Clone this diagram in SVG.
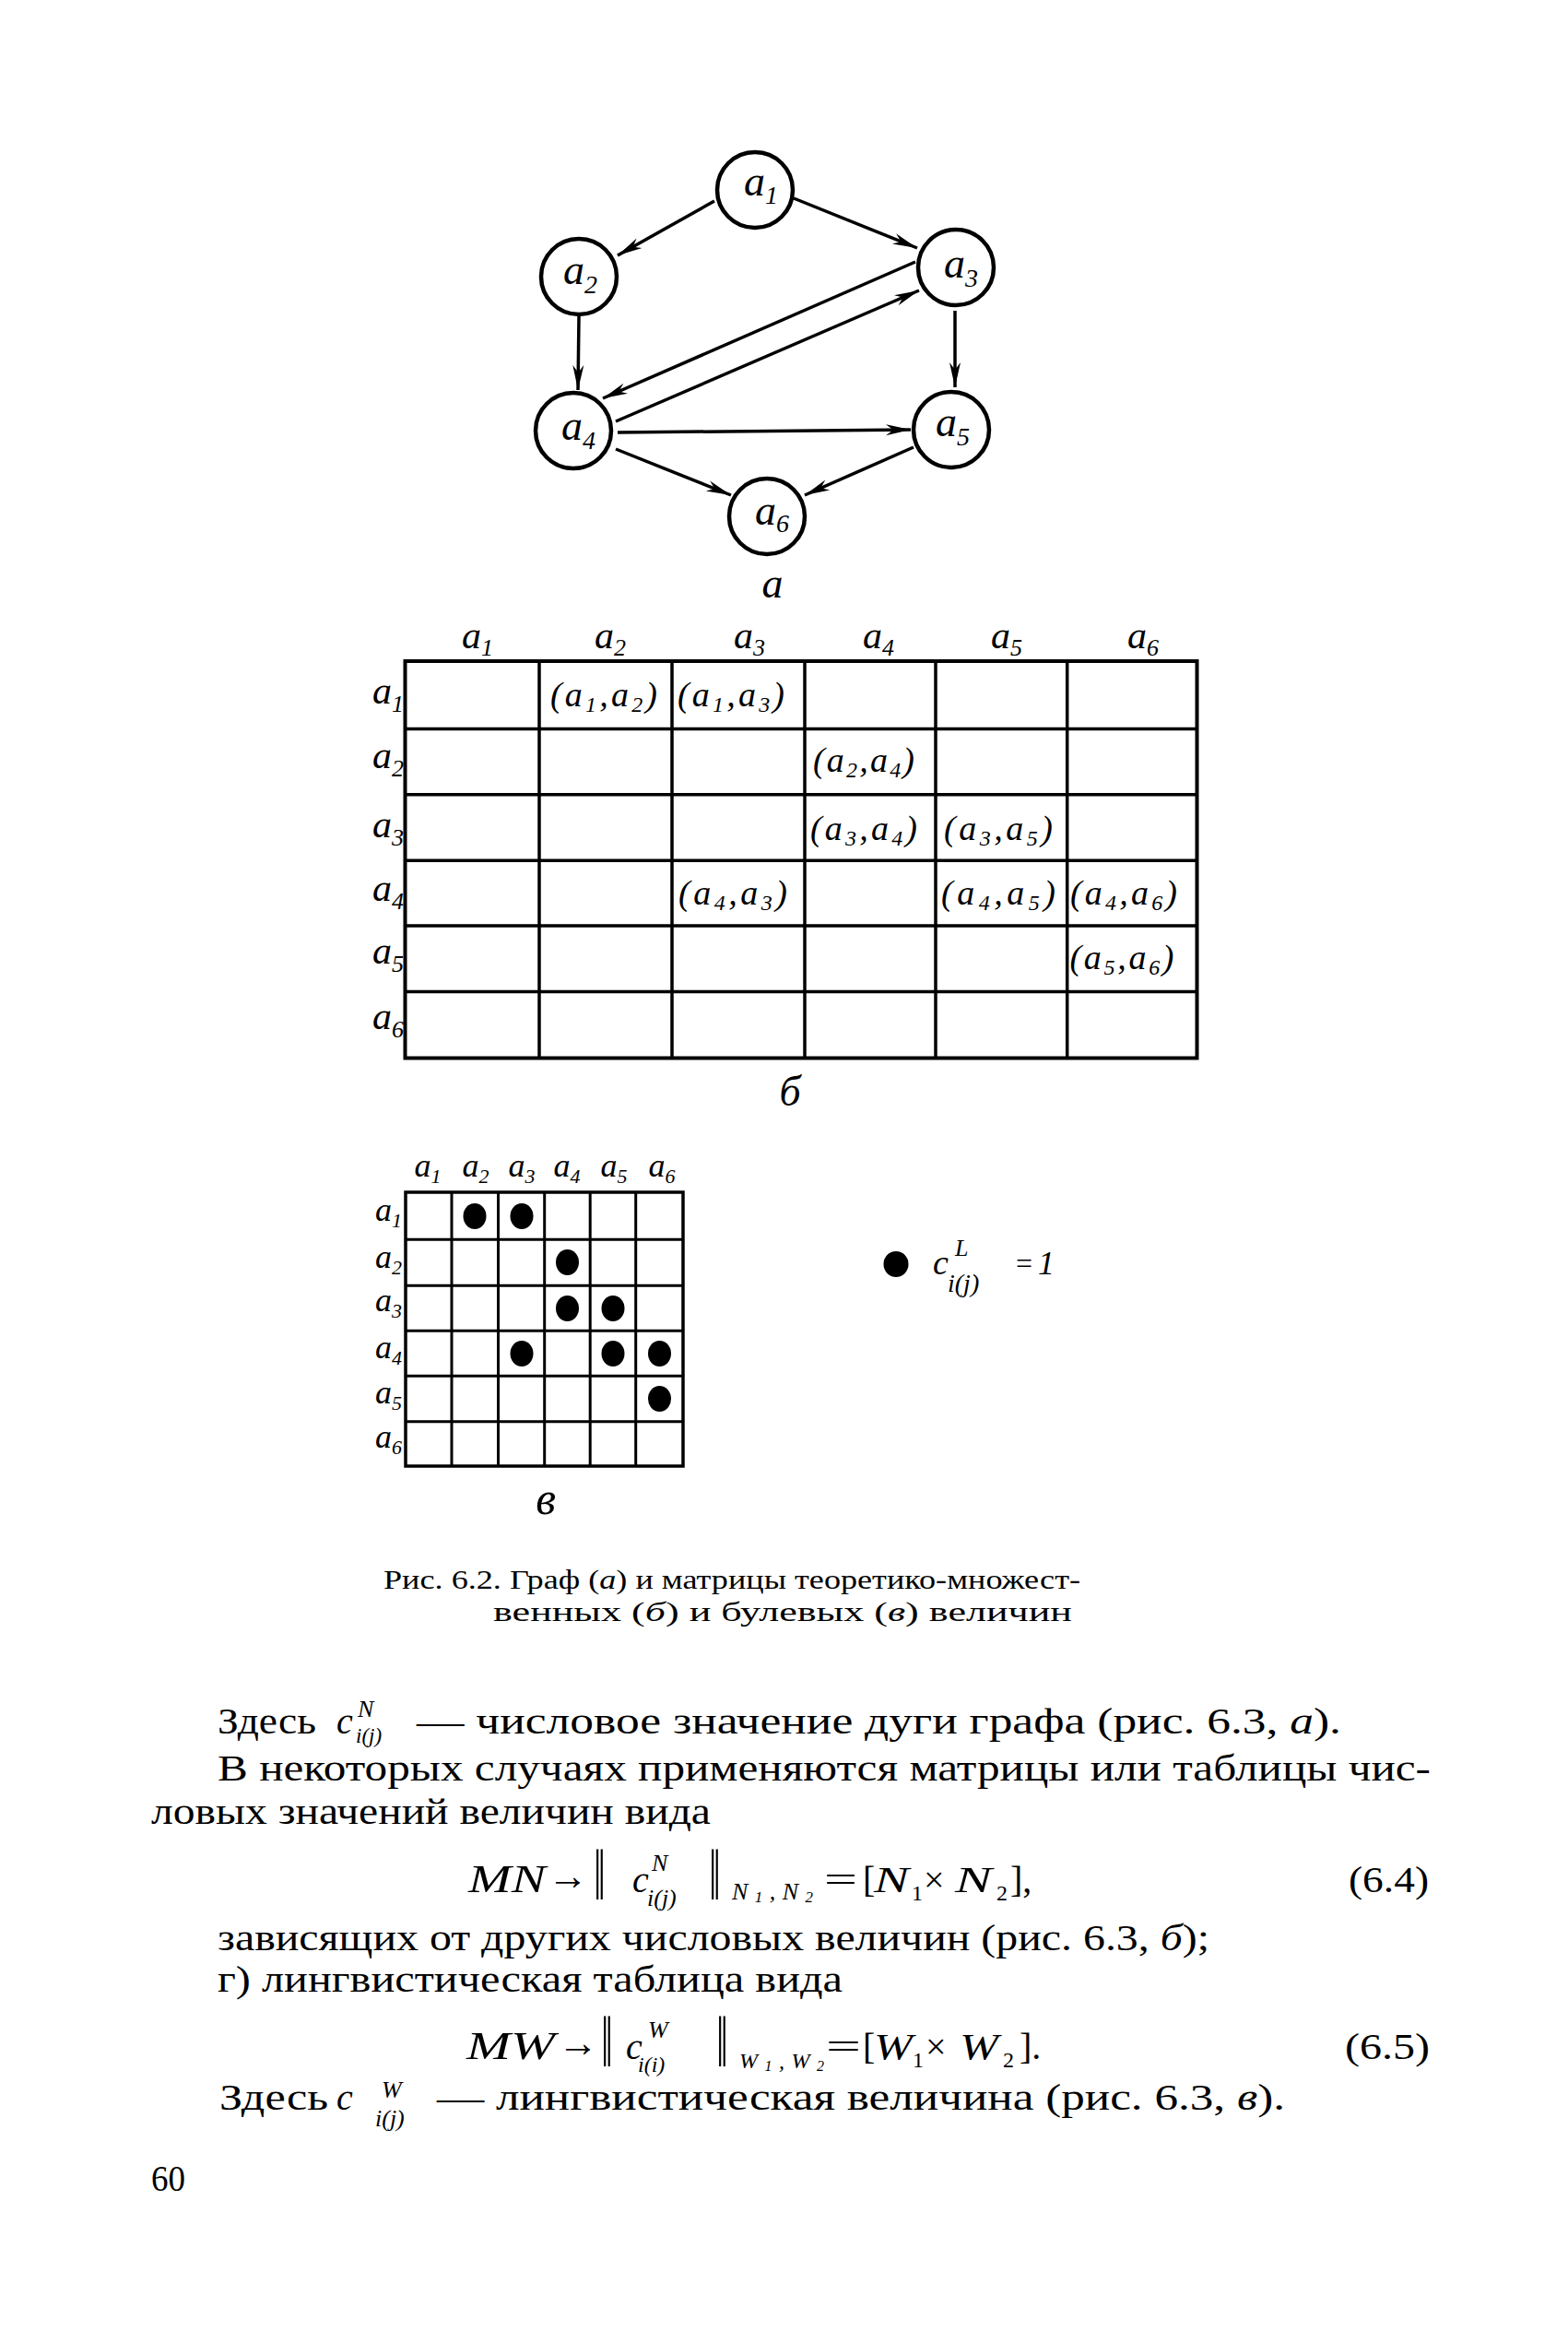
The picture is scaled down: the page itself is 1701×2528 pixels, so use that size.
<svg xmlns="http://www.w3.org/2000/svg" width="1701" height="2528" viewBox="0 0 1701 2528">
<style>
text{font-family:"Liberation Serif","Times New Roman",serif;fill:#000}
.i{font-style:italic}
.nl{font-size:46px;font-style:italic}
.tl{font-size:42px;font-style:italic}
.cl{font-size:38px;font-style:italic}
.sl{font-size:36px;font-style:italic}
.node circle{fill:#fff;stroke:#000;stroke-width:4.5}
.edge{stroke:#000;stroke-width:3.5;fill:none;marker-end:url(#ah)}
.grid{stroke:#000;fill:none}
.body{font-size:40px}
.cap{font-size:30px}
.eq{font-size:40px}
.bar{font-size:46px}
.arr{font-size:44px}
</style>
<defs>
<marker id="ah" markerUnits="userSpaceOnUse" markerWidth="30" markerHeight="14" refX="27" refY="7" orient="auto">
<path d="M0,1 L27,7 L0,13 L8,7 Z" fill="#000"/>
</marker>
</defs>
<rect width="1701" height="2528" fill="#fff"/>

<g id="connectors">
<line class="edge" x1="775" y1="218" x2="670" y2="277"/>
<line class="edge" x1="861" y1="215" x2="995" y2="269"/>
<line class="edge" x1="993" y1="284" x2="654" y2="432"/>
<line class="edge" x1="668" y1="457" x2="997" y2="315"/>
<line class="edge" x1="628" y1="343" x2="627" y2="423"/>
<line class="edge" x1="1036" y1="337" x2="1036" y2="420"/>
<line class="edge" x1="670" y1="469" x2="988" y2="466"/>
<line class="edge" x1="668" y1="487" x2="793" y2="537"/>
<line class="edge" x1="991" y1="485" x2="873" y2="537"/>
</g>

<g id="node-a1" class="node"><circle cx="819" cy="206" r="41"/><text class="nl" x="807" y="212">a<tspan font-size="28" dy="9">1</tspan></text></g>
<g id="node-a2" class="node"><circle cx="628" cy="300" r="41"/><text class="nl" x="611" y="308">a<tspan font-size="28" dy="10">2</tspan></text></g>
<g id="node-a3" class="node"><circle cx="1037" cy="290" r="41"/><text class="nl" x="1024" y="301">a<tspan font-size="28" dy="10">3</tspan></text></g>
<g id="node-a4" class="node"><circle cx="622" cy="467" r="41"/><text class="nl" x="609" y="477">a<tspan font-size="28" dy="10">4</tspan></text></g>
<g id="node-a5" class="node"><circle cx="1032" cy="466" r="41"/><text class="nl" x="1015" y="473">a<tspan font-size="28" dy="10">5</tspan></text></g>
<g id="node-a6" class="node"><circle cx="832" cy="560" r="41"/><text class="nl" x="819" y="569">a<tspan font-size="28" dy="8">6</tspan></text></g>
<text class="nl" x="838" y="648" text-anchor="middle">a</text>

<g id="table-b">
<rect class="grid" x="439.5" y="717" width="859" height="430.5" stroke-width="4"/>
<path class="grid" stroke-width="3.5" d="M585,717V1147.5M729,717V1147.5M873,717V1147.5M1015,717V1147.5M1157.7,717V1147.5M439.5,790.4H1298.5M439.5,861.8H1298.5M439.5,933.2H1298.5M439.5,1003.9H1298.5M439.5,1075.4H1298.5"/>
<g text-anchor="middle">
<text class="tl" x="518" y="703">a<tspan font-size="26" dy="8">1</tspan></text>
<text class="tl" x="662" y="703">a<tspan font-size="26" dy="8">2</tspan></text>
<text class="tl" x="813" y="703">a<tspan font-size="26" dy="8">3</tspan></text>
<text class="tl" x="953" y="703">a<tspan font-size="26" dy="8">4</tspan></text>
<text class="tl" x="1092" y="703">a<tspan font-size="26" dy="8">5</tspan></text>
<text class="tl" x="1240" y="703">a<tspan font-size="26" dy="8">6</tspan></text>
</g>
<g text-anchor="end">
<text class="tl" x="438" y="763">a<tspan font-size="26" dy="9">1</tspan></text>
<text class="tl" x="438" y="833">a<tspan font-size="26" dy="9">2</tspan></text>
<text class="tl" x="438" y="908">a<tspan font-size="26" dy="9">3</tspan></text>
<text class="tl" x="438" y="977">a<tspan font-size="26" dy="9">4</tspan></text>
<text class="tl" x="438" y="1045">a<tspan font-size="26" dy="9">5</tspan></text>
<text class="tl" x="438" y="1116">a<tspan font-size="26" dy="9">6</tspan></text>
</g>
<g text-anchor="middle">
<text class="cl" x="655" y="766" textLength="116" lengthAdjust="spacing">(a<tspan font-size="24" dy="6">1</tspan><tspan dy="-6">,a</tspan><tspan font-size="24" dy="6">2</tspan><tspan dy="-6">)</tspan></text>
<text class="cl" x="793" y="766" textLength="116" lengthAdjust="spacing">(a<tspan font-size="24" dy="6">1</tspan><tspan dy="-6">,a</tspan><tspan font-size="24" dy="6">3</tspan><tspan dy="-6">)</tspan></text>
<text class="cl" x="937" y="837" textLength="110" lengthAdjust="spacing">(a<tspan font-size="24" dy="6">2</tspan><tspan dy="-6">,a</tspan><tspan font-size="24" dy="6">4</tspan><tspan dy="-6">)</tspan></text>
<text class="cl" x="937" y="911" textLength="116" lengthAdjust="spacing">(a<tspan font-size="24" dy="6">3</tspan><tspan dy="-6">,a</tspan><tspan font-size="24" dy="6">4</tspan><tspan dy="-6">)</tspan></text>
<text class="cl" x="1083" y="911" textLength="118" lengthAdjust="spacing">(a<tspan font-size="24" dy="6">3</tspan><tspan dy="-6">,a</tspan><tspan font-size="24" dy="6">5</tspan><tspan dy="-6">)</tspan></text>
<text class="cl" x="795" y="981" textLength="118" lengthAdjust="spacing">(a<tspan font-size="24" dy="6">4</tspan><tspan dy="-6">,a</tspan><tspan font-size="24" dy="6">3</tspan><tspan dy="-6">)</tspan></text>
<text class="cl" x="1083" y="981" textLength="124" lengthAdjust="spacing">(a<tspan font-size="24" dy="6">4</tspan><tspan dy="-6">,a</tspan><tspan font-size="24" dy="6">5</tspan><tspan dy="-6">)</tspan></text>
<text class="cl" x="1219" y="981" textLength="116" lengthAdjust="spacing">(a<tspan font-size="24" dy="6">4</tspan><tspan dy="-6">,a</tspan><tspan font-size="24" dy="6">6</tspan><tspan dy="-6">)</tspan></text>
<text class="cl" x="1217" y="1051" textLength="113" lengthAdjust="spacing">(a<tspan font-size="24" dy="6">5</tspan><tspan dy="-6">,a</tspan><tspan font-size="24" dy="6">6</tspan><tspan dy="-6">)</tspan></text>
</g>
<text class="nl" x="857" y="1199" text-anchor="middle">б</text>
</g>

<g id="matrix-v">
<rect class="grid" x="440" y="1293" width="301" height="297" stroke-width="3.5"/>
<path class="grid" stroke-width="3" d="M490,1293V1590M540.5,1293V1590M590.7,1293V1590M640.2,1293V1590M689.7,1293V1590M440,1344.3H741M440,1394.3H741M440,1443.3H741M440,1492.3H741M440,1541.7H741"/>
<g text-anchor="middle">
<text class="sl" x="464" y="1276">a<tspan font-size="22" dy="7">1</tspan></text>
<text class="sl" x="516" y="1276">a<tspan font-size="22" dy="7">2</tspan></text>
<text class="sl" x="566" y="1276">a<tspan font-size="22" dy="7">3</tspan></text>
<text class="sl" x="615" y="1276">a<tspan font-size="22" dy="7">4</tspan></text>
<text class="sl" x="666" y="1276">a<tspan font-size="22" dy="7">5</tspan></text>
<text class="sl" x="718" y="1276">a<tspan font-size="22" dy="7">6</tspan></text>
</g>
<g text-anchor="end">
<text class="sl" x="436" y="1324">a<tspan font-size="22" dy="7">1</tspan></text>
<text class="sl" x="436" y="1375">a<tspan font-size="22" dy="7">2</tspan></text>
<text class="sl" x="436" y="1422">a<tspan font-size="22" dy="7">3</tspan></text>
<text class="sl" x="436" y="1473">a<tspan font-size="22" dy="7">4</tspan></text>
<text class="sl" x="436" y="1522">a<tspan font-size="22" dy="7">5</tspan></text>
<text class="sl" x="436" y="1570">a<tspan font-size="22" dy="7">6</tspan></text>
</g>
<g fill="#000">
<ellipse cx="515" cy="1319" rx="12.5" ry="14"/>
<ellipse cx="566" cy="1319" rx="12.5" ry="14"/>
<ellipse cx="615.5" cy="1369" rx="12.5" ry="14"/>
<ellipse cx="615.5" cy="1419" rx="12.5" ry="14"/>
<ellipse cx="665" cy="1419" rx="12.5" ry="14"/>
<ellipse cx="566" cy="1468" rx="12.5" ry="14"/>
<ellipse cx="665" cy="1468" rx="12.5" ry="14"/>
<ellipse cx="715.5" cy="1468" rx="12.5" ry="14"/>
<ellipse cx="715.5" cy="1517" rx="12.5" ry="14"/>
</g>
<text class="i" font-size="50" x="592" y="1642" text-anchor="middle">в</text>
</g>

<g id="legend">
<ellipse cx="972" cy="1371" rx="13.5" ry="14" fill="#000"/>
<text class="i" x="1012" y="1382" font-size="38">c</text>
<text class="i" x="1036" y="1362" font-size="26">L</text>
<text class="i" x="1028" y="1401" font-size="28">i(j)</text>
<text x="1102" y="1381" font-size="32">=</text>
<text class="i" x="1126" y="1382" font-size="36">1</text>
</g>

<g id="caption">
<text class="cap" x="416" y="1723" textLength="756" lengthAdjust="spacingAndGlyphs">Рис. 6.2. Граф (<tspan class="i">а</tspan>) и матрицы теоретико-множест-</text>
<text class="cap" x="535" y="1758" textLength="628" lengthAdjust="spacingAndGlyphs">венных (<tspan class="i">б</tspan>) и булевых (<tspan class="i">в</tspan>) величин</text>
</g>

<g id="body">
<text class="body" x="236" y="1880" textLength="107" lengthAdjust="spacingAndGlyphs">Здесь</text>
<text class="body i" x="365" y="1880">c</text>
<text class="i" x="388" y="1862" font-size="26">N</text>
<text class="i" x="386" y="1890" font-size="23">i(j)</text>
<text class="body" x="452" y="1880" textLength="1003" lengthAdjust="spacingAndGlyphs">— числовое значение дуги графа (рис. 6.3, <tspan class="i">а</tspan>).</text>
<text class="body" x="236" y="1931" textLength="1316" lengthAdjust="spacingAndGlyphs">В некоторых случаях применяются матрицы или таблицы чис-</text>
<text class="body" x="164" y="1978" textLength="607" lengthAdjust="spacingAndGlyphs">ловых значений величин вида</text>

<text class="i" font-size="42" x="508" y="2052" textLength="84" lengthAdjust="spacingAndGlyphs">MN</text>
<text class="arr" x="594" y="2049">→</text>
<text class="bar" transform="translate(644,2060) scale(1,1.7)">‖</text>
<text class="eq i" x="686" y="2052">c</text>
<text class="i" x="707" y="2029" font-size="26">N</text>
<text class="i" x="702" y="2067" font-size="26">i(j)</text>
<text class="bar" transform="translate(769,2060) scale(1,1.7)">‖</text>
<text class="i" x="794" y="2060" font-size="26" textLength="88" lengthAdjust="spacing">N<tspan font-size="17" dy="3">1</tspan><tspan dy="-3">,N</tspan><tspan font-size="17" dy="3">2</tspan></text>
<text class="eq" x="894" y="2052" textLength="36" lengthAdjust="spacingAndGlyphs">=</text>
<text class="eq" x="936" y="2052">[</text>
<text class="eq i" x="948" y="2052" textLength="38" lengthAdjust="spacingAndGlyphs">N</text>
<text x="989" y="2061" font-size="24">1</text>
<text class="eq" x="1002" y="2052">×</text>
<text class="eq i" x="1036" y="2052" textLength="40" lengthAdjust="spacingAndGlyphs">N</text>
<text x="1081" y="2061" font-size="24">2</text>
<text class="eq" x="1096" y="2052">],</text>
<text class="eq" x="1463" y="2052" textLength="87" lengthAdjust="spacingAndGlyphs">(6.4)</text>

<text class="body" x="236" y="2115" textLength="1076" lengthAdjust="spacingAndGlyphs">зависящих от других числовых величин (рис. 6.3, <tspan class="i">б</tspan>);</text>
<text class="body" x="236" y="2160" textLength="678" lengthAdjust="spacingAndGlyphs">г) лингвистическая таблица вида</text>

<text class="i" font-size="42" x="506" y="2233" textLength="96" lengthAdjust="spacingAndGlyphs">MW</text>
<text class="arr" x="605" y="2230">→</text>
<text class="bar" transform="translate(652,2241) scale(1,1.7)">‖</text>
<text class="eq i" x="679" y="2233">c</text>
<text class="i" x="703" y="2210" font-size="26">W</text>
<text class="i" x="692" y="2247" font-size="24">i(i)</text>
<text class="bar" transform="translate(777,2241) scale(1,1.7)">‖</text>
<text class="i" x="802" y="2243" font-size="24" textLength="92" lengthAdjust="spacing">W<tspan font-size="16" dy="3">1</tspan><tspan dy="-3">,W</tspan><tspan font-size="16" dy="3">2</tspan></text>
<text class="eq" x="896" y="2233" textLength="38" lengthAdjust="spacingAndGlyphs">=</text>
<text class="eq" x="936" y="2233">[</text>
<text class="eq i" x="948" y="2233" textLength="42" lengthAdjust="spacingAndGlyphs">W</text>
<text x="990" y="2242" font-size="24">1</text>
<text class="eq" x="1004" y="2233">×</text>
<text class="eq i" x="1041" y="2233" textLength="42" lengthAdjust="spacingAndGlyphs">W</text>
<text x="1088" y="2242" font-size="24">2</text>
<text class="eq" x="1106" y="2233">].</text>
<text class="eq" x="1459" y="2233" textLength="92" lengthAdjust="spacingAndGlyphs">(6.5)</text>

<text class="body" x="238" y="2288" textLength="118" lengthAdjust="spacingAndGlyphs">Здесь</text>
<text class="body i" x="365" y="2288">c</text>
<text class="i" x="414" y="2275" font-size="26">W</text>
<text class="i" x="407" y="2306" font-size="26">i(j)</text>
<text class="body" x="474" y="2288" textLength="920" lengthAdjust="spacingAndGlyphs">— лингвистическая величина (рис. 6.3, <tspan class="i">в</tspan>).</text>
<text class="body" x="164" y="2376" textLength="37" lengthAdjust="spacingAndGlyphs">60</text>
</g>
</svg>
